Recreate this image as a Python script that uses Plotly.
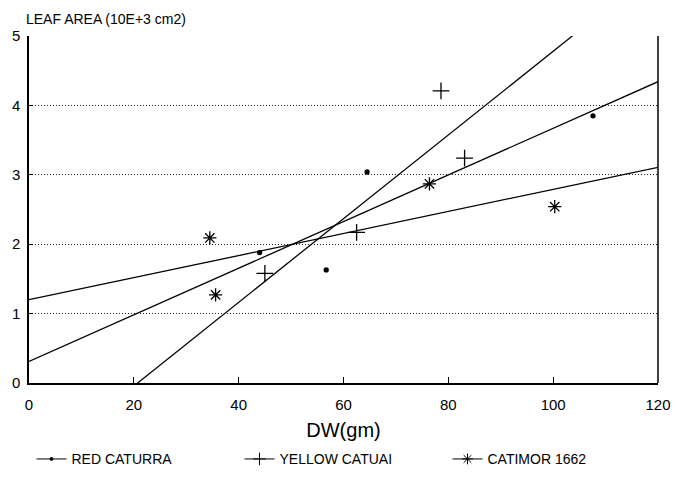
import plotly.graph_objects as go

# ---- data ----
series_names = ["RED CATURRA", "YELLOW CATUAI", "CATIMOR 1662"]

red_x = [44.0, 56.7, 64.5, 107.6]
red_y = [1.88, 1.63, 3.04, 3.85]

yellow_x = [45.0, 62.5, 78.6, 83.1]
yellow_y = [1.58, 2.17, 4.21, 3.24]

catimor_x = [34.5, 35.6, 76.4, 100.3]
catimor_y = [2.09, 1.27, 2.87, 2.54]

# fitted regression lines (intercept, slope)
line_intercepts = [0.31, -1.25, 1.20]
line_slopes = [0.0336, 0.0603, 0.0159]

x_ticks = [0, 20, 40, 60, 80, 100, 120]
y_ticks = [0, 1, 2, 3, 4, 5]

FONT = "Liberation Sans, Arial, sans-serif"

fig = go.Figure()

line_x = [x_ticks[0], x_ticks[-1]]
symbols = ["circle", "cross-thin-open", "asterisk-open"]
sizes = [4, 12, 11]
pts = [(red_x, red_y), (yellow_x, yellow_y), (catimor_x, catimor_y)]

for name, (px, py), b, m, sym, sz in zip(series_names, pts, line_intercepts,
                                         line_slopes, symbols, sizes):
    # regression line
    fig.add_trace(go.Scatter(
        x=line_x, y=[b + m * xx for xx in line_x], mode="lines",
        line=dict(color="black", width=1.3), showlegend=False, hoverinfo="skip"))
    # data points
    fig.add_trace(go.Scatter(
        x=px, y=py, mode="markers", showlegend=False,
        marker=dict(symbol=sym, size=sz, color="black",
                    line=dict(color="black", width=1.3))))
    # legend entry
    fig.add_trace(go.Scatter(
        x=[None], y=[None], mode="lines+markers", name=name,
        line=dict(color="black", width=1),
        marker=dict(symbol=sym, size=(3 if sz == 4 else 9), color="black",
                    line=dict(color="black", width=1))))

fig.update_xaxes(
    range=[0, 120], tickvals=x_ticks, showgrid=False, zeroline=False,
    showline=True, linecolor="black", linewidth=1.5,
    ticks="inside", ticklen=6, tickcolor="black",
    tickfont=dict(family=FONT, size=15, color="black"),
    ticklabelstandoff=7,
    title=dict(text="DW(gm)", font=dict(family=FONT, size=20, color="black"),
               standoff=11))
fig.update_yaxes(
    range=[0, 5], tickvals=y_ticks, showgrid=True, gridcolor="#222",
    griddash="1px,2px", gridwidth=1, zeroline=False,
    showline=True, linecolor="black", linewidth=1.5,
    ticks="inside", ticklen=4, tickcolor="black",
    tickfont=dict(family=FONT, size=15, color="black"),
    ticklabelstandoff=4)

fig.add_shape(type="line", xref="paper", yref="paper", x0=1, x1=1, y0=0, y1=1,
              line=dict(color="black", width=1.5))

fig.add_annotation(text="LEAF AREA (10E+3 cm2)", xref="paper", yref="paper",
                   x=-0.008, y=1.05, xanchor="left", yanchor="middle",
                   showarrow=False,
                   font=dict(family=FONT, size=14, color="black"))

fig.update_layout(
    width=683, height=487,
    margin=dict(l=27, r=16, t=36, b=97),
    paper_bgcolor="white", plot_bgcolor="white",
    showlegend=True,
    legend=dict(orientation="h", x=0.5, xanchor="center", y=-0.22,
                yanchor="middle", font=dict(family=FONT, size=14, color="black"),
                itemwidth=30, entrywidth=163, entrywidthmode="pixels",
                bgcolor="rgba(0,0,0,0)"),
)

fig.write_html("out.html")
